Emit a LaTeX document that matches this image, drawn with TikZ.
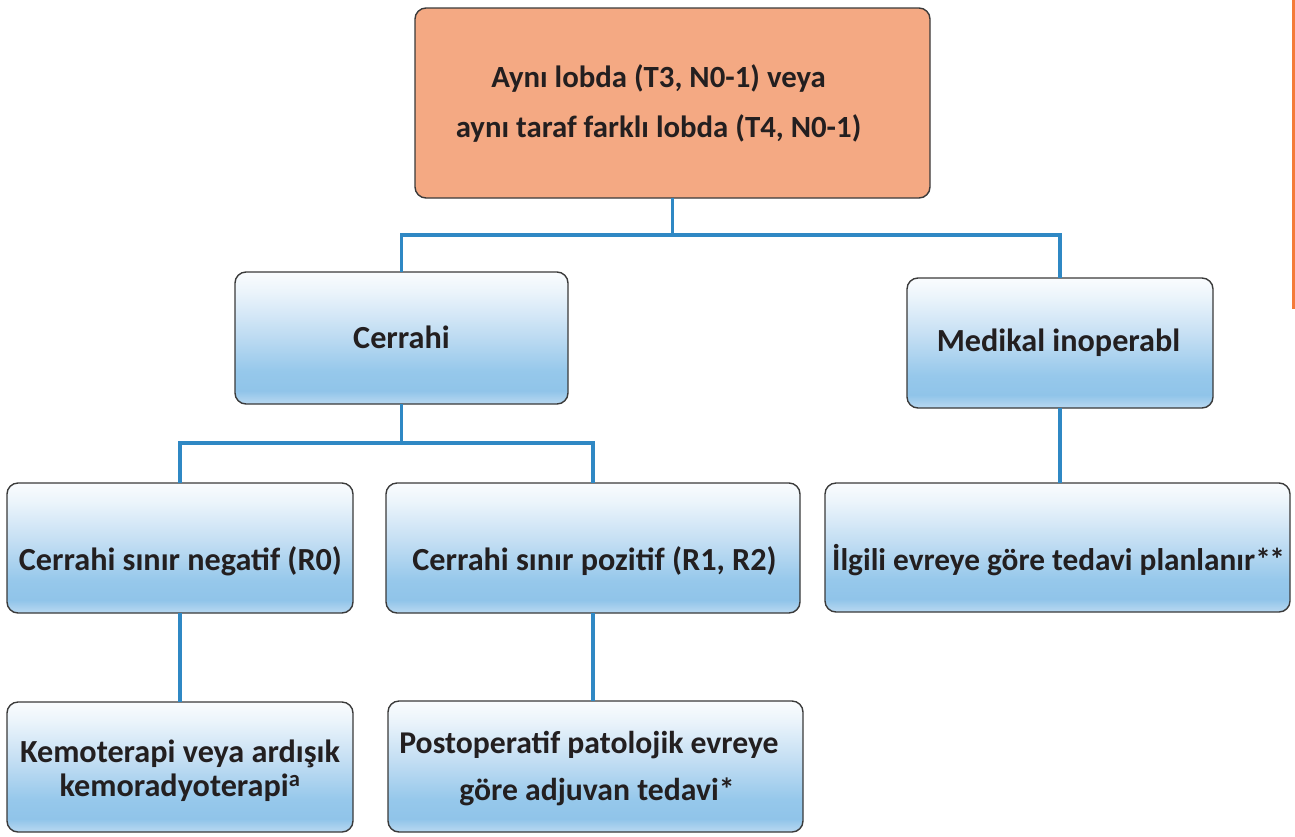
\documentclass[tikz,border=0pt]{standalone}
\usepackage{fontspec}
\setmainfont{Carlito}
\definecolor{inkc}{HTML}{231F20}
\definecolor{framec}{HTML}{3A3A3A}
\definecolor{peach}{HTML}{F4A983}
\definecolor{connc}{HTML}{2F88C4}
\definecolor{accent}{HTML}{F47B3A}
\definecolor{bbot}{HTML}{BAD9F1}
\definecolor{bdeep}{HTML}{90C4E9}
\definecolor{bdeep2}{HTML}{96C8EB}
\definecolor{bmidc}{HTML}{C3DEF3}
\definecolor{bhigh}{HTML}{EBF4FB}
\definecolor{btop}{HTML}{FAFCFE}
% soft sky-blue fill of the lower boxes
\pgfdeclareverticalshading{skyfill}{100bp}{%
  color(0bp)=(bbot); color(25bp)=(bbot); color(30bp)=(bdeep);
  color(37.5bp)=(bdeep2); color(52.5bp)=(bmidc); color(67.5bp)=(bhigh);
  color(75bp)=(btop); color(100bp)=(btop)}
\tikzset{
  boxbase/.style={draw=framec, line width=1.4pt, rounded corners=11pt,
    inner sep=0pt, outer sep=0pt},
  peachbox/.style={boxbase, fill=peach},
  skybox/.style={boxbase, shading=skyfill},
  lbl/.style={text=inkc, inner sep=0pt, anchor=base,
    font=\fontsize{32.2}{38}\selectfont\bfseries},
  toplbl/.style={lbl, font=\fontsize{30.8}{38}\selectfont\bfseries},
  conn/.style={draw=connc, line width=3.6pt}
}
\begin{document}
\begin{tikzpicture}[x=1pt, y=-1pt]
\useasboundingbox (0,0) rectangle (1295,836);

% accent rule at the page edge
\coordinate (ruletop) at (1293.5,0);
\coordinate (rulebot) at (1293.5,309);
\draw[accent, line width=2.6pt] (ruletop) -- (rulebot);

% boxes
\node[peachbox, minimum width=515pt, minimum height=190pt] (top) at (672.5,103) {};
\node[skybox, minimum width=333pt, minimum height=132pt] (cer) at (401.5,338) {};
\node[skybox, minimum width=306pt, minimum height=130pt] (med) at (1060,343) {};
\node[skybox, minimum width=346pt, minimum height=130pt] (r0) at (180,548) {};
\node[skybox, minimum width=414pt, minimum height=130pt] (r12) at (593,548) {};
\node[skybox, minimum width=465pt, minimum height=129pt] (ilg) at (1057.5,547.5) {};
\node[skybox, minimum width=346pt, minimum height=130pt] (kem) at (180,767) {};
\node[skybox, minimum width=415pt, minimum height=131pt] (post) at (595.5,766.5) {};

% connectors
\coordinate (j1) at (672.5,235);
\coordinate (j2) at (401.5,443);
\draw[conn] (top.south) -- (j1);
\draw[conn] (cer.north) |- (j1) -| (med.north);
\draw[conn] (cer.south) -- (j2);
\draw[conn] (r0.north) |- (j2) -| (r12.north);
\draw[conn] (med.south) -- (med.south |- ilg.north);
\draw[conn] (r0.south) -- (r0.south |- kem.north);
\draw[conn] (r12.south) -- (r12.south |- post.north);

% labels
\node[toplbl] (topa) at (658.5,87) {Aynı lobda (T3, N0-1) veya};
\node[toplbl] (topb) at (658.5,137) {aynı taraf farklı lobda (T4, N0-1)};
\node[lbl] (cert) at (401.5,348) {Cerrahi};
\node[lbl] (medt) at (1058.5,351) {Medikal inoperabl};
\node[lbl] (r0t) at (180.5,570) {Cerrahi sınır negatif (R0)};
\node[lbl] (r12t) at (594.5,570) {Cerrahi sınır pozitif (R1, R2)};
\node[lbl, font=\fontsize{31.3}{38}\selectfont\bfseries] (ilgt) at (1058.5,570)
  {İlgili evreye göre tedavi planlanır*\kern-1.5pt*};
\node[lbl] (kema) at (180,762) {Kemoterapi veya ardışık};
\node[lbl] (kemb) at (180,796) {kemoradyoterapi\textsuperscript{a}};
\node[lbl, font=\fontsize{31.7}{38}\selectfont\bfseries] (posta) at (589,753) {Postoperatif patolojik evreye};
\node[lbl, font=\fontsize{31.7}{38}\selectfont\bfseries] (postb) at (597,800) {göre adjuvan tedavi*};
\end{tikzpicture}
\end{document}
